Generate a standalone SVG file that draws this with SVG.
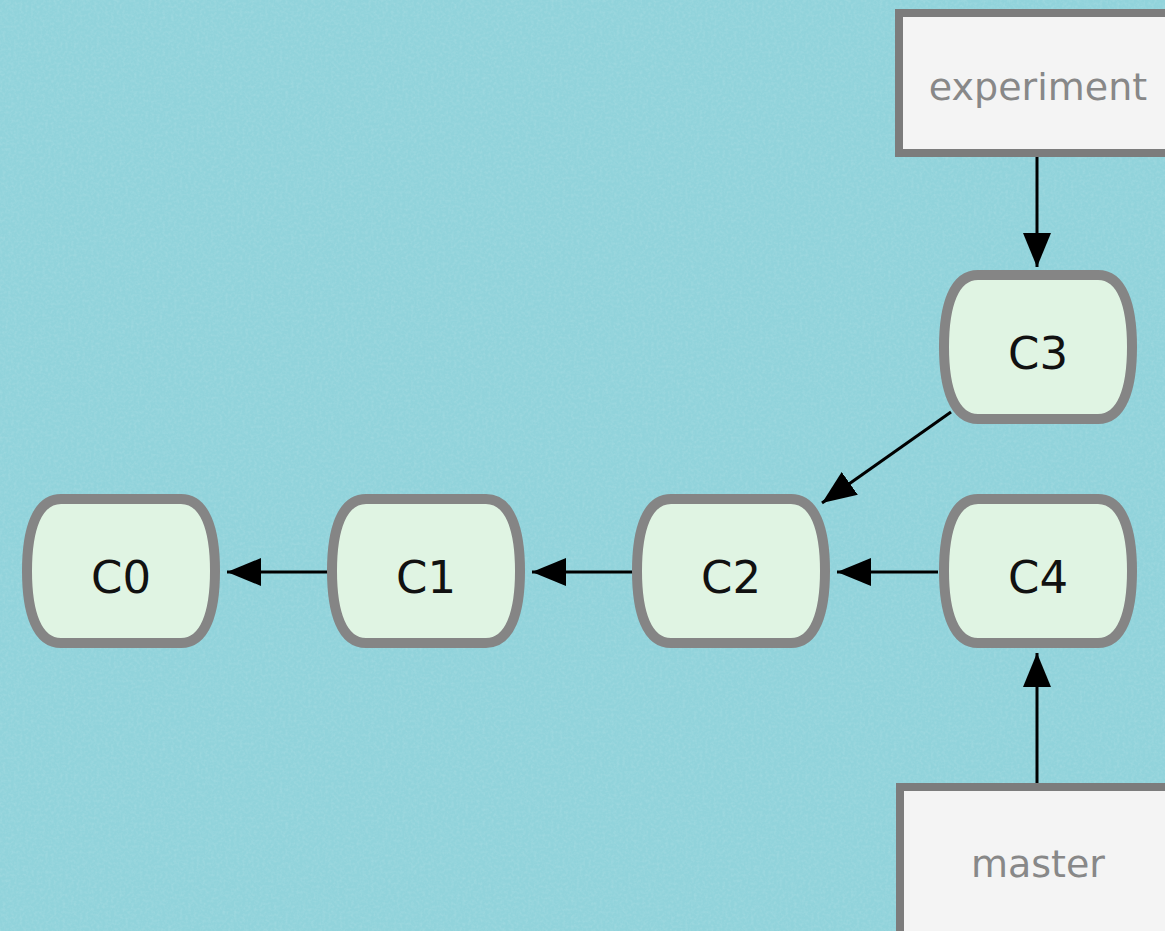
<svg xmlns="http://www.w3.org/2000/svg" width="1165" height="931" viewBox="0 0 1165 931">
  <defs>
    <filter id="grain" x="0" y="0" width="100%" height="100%">
      <feTurbulence type="fractalNoise" baseFrequency="0.35" numOctaves="2" seed="4" result="noise"/>
      <feColorMatrix in="noise" type="matrix" values="0 0 0 0 1  0 0 0 0 1  0 0 0 0 1  0 0 0 0.9 -0.35"/>
    </filter>
    <marker id="head" viewBox="0 0 34 28" refX="34" refY="14" markerWidth="34" markerHeight="28" markerUnits="userSpaceOnUse" orient="auto">
      <path d="M0,0 L34,14 L0,28 Z" fill="#000"/>
    </marker>
    <!-- commit outline: flat top/bottom, bulging sides; 188 x 144, origin at top-left -->
    <path id="pill" d="M34,0 H154 C178,0 188,30 188,72 C188,114 178,144 154,144 H34 C10,144 0,114 0,72 C0,30 10,0 34,0 Z"/>
    <style>
      .commit use { fill: #e0f4e3; stroke: #858585; stroke-width: 10; }
      .commit text { font-family: "DejaVu Sans", Verdana, sans-serif; font-size: 45px; fill: #111; text-anchor: middle; }
      .branch rect { fill: #f4f4f4; stroke: #7c7c7c; stroke-width: 8; }
      .branch text { font-family: "DejaVu Sans", Verdana, sans-serif; font-size: 38px; fill: #888; text-anchor: middle; }
      .edge { stroke: #000; stroke-width: 3; fill: none; marker-end: url(#head); }
    </style>
  </defs>

  <!-- backdrop -->
  <rect width="1165" height="931" fill="#91d3db"/>
  <rect width="1165" height="931" filter="url(#grain)" opacity="0.25"/>

  <!-- connectors -->
  <g id="connectors">
    <line class="edge" x1="1037" y1="157" x2="1037" y2="267"/>
    <line class="edge" x1="1037" y1="783" x2="1037" y2="653"/>
    <line class="edge" x1="951" y1="412" x2="822" y2="503"/>
    <line class="edge" x1="938" y1="572" x2="837" y2="572"/>
    <line class="edge" x1="633" y1="572" x2="532" y2="572"/>
    <line class="edge" x1="328" y1="572" x2="227" y2="572"/>
  </g>

  <!-- commits -->
  <g id="C0" class="commit">
    <use href="#pill" x="27" y="499"/>
    <text x="121" y="593">C0</text>
  </g>
  <g id="C1" class="commit">
    <use href="#pill" x="332" y="499"/>
    <text x="426" y="593">C1</text>
  </g>
  <g id="C2" class="commit">
    <use href="#pill" x="637" y="499"/>
    <text x="731" y="593">C2</text>
  </g>
  <g id="C4" class="commit">
    <use href="#pill" x="944" y="499"/>
    <text x="1038" y="593">C4</text>
  </g>
  <g id="C3" class="commit">
    <use href="#pill" x="944" y="275"/>
    <text x="1038" y="369">C3</text>
  </g>

  <!-- branch labels -->
  <g id="experiment" class="branch">
    <rect x="899" y="13" width="280" height="140"/>
    <text x="1038" y="100">experiment</text>
  </g>
  <g id="master" class="branch">
    <rect x="900" y="787" width="280" height="160"/>
    <text x="1038" y="877">master</text>
  </g>
</svg>
